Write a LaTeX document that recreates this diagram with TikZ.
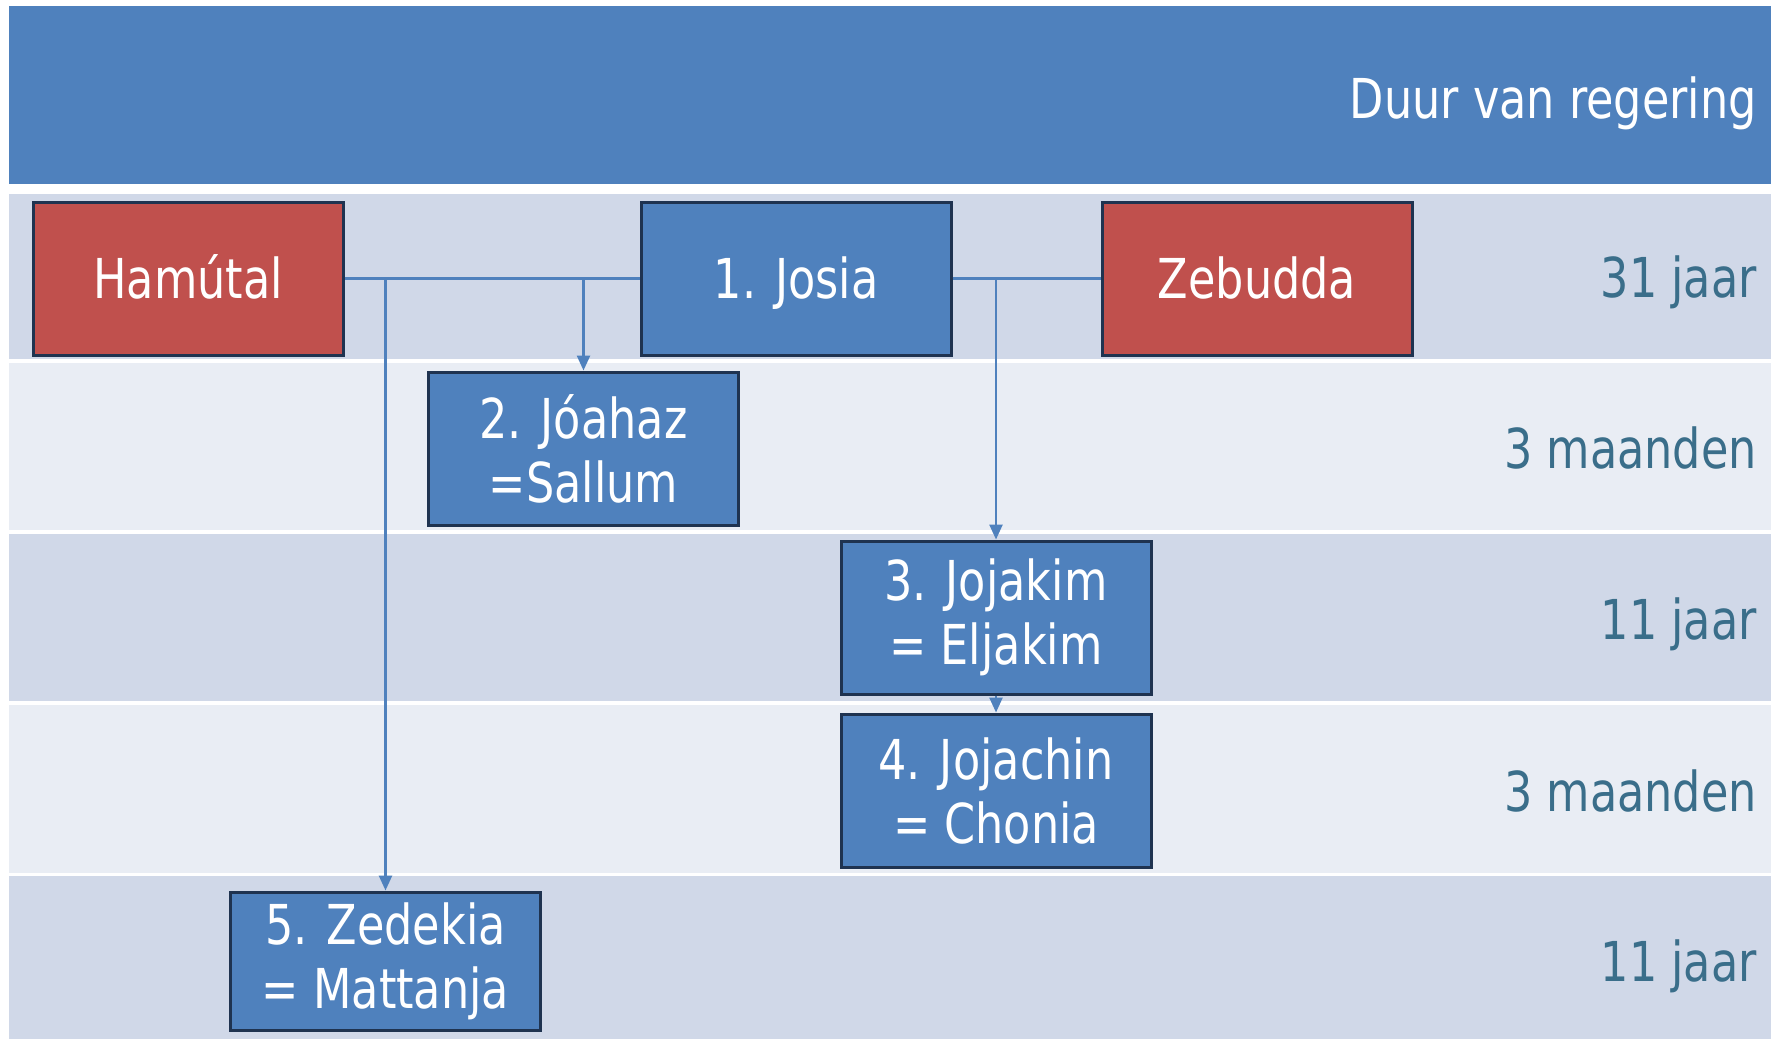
\documentclass[tikz,border=0pt]{standalone}
\usepackage{fontspec}
\setmainfont{DejaVu Sans}[FakeStretch=0.81]
\usetikzlibrary{arrows.meta}
\definecolor{hdr}{HTML}{4F81BD}
\definecolor{rowA}{HTML}{D0D8E8}
\definecolor{rowB}{HTML}{E9EDF4}
\definecolor{boxblue}{HTML}{4F81BD}
\definecolor{boxred}{HTML}{C0504D}
\definecolor{boxline}{HTML}{1F3350}
\definecolor{durtext}{HTML}{3A6E8A}
\definecolor{conn}{HTML}{4F81BD}
\tikzset{
  person/.style={draw=boxline, line width=3pt, inner sep=0pt, align=center,
    text=white, font=\fontsize{55}{64}\selectfont,
    minimum width=310pt, minimum height=153pt},
  single/.style={text height=40pt, text depth=0pt},
  king/.style={person, fill=boxblue},
  mother/.style={person, fill=boxred},
  dur/.style={anchor=base east, text=durtext, inner sep=0pt, font=\fontsize{55}{64}\selectfont},
  conline/.style={draw=conn, line width=2.5pt},
  conarrow/.style={conline, -{Triangle[length=15pt,width=13pt]}}
}
\begin{document}
\begin{tikzpicture}[x=1pt,y=-1pt]
\useasboundingbox (0,0) rectangle (1777,1042);
\fill[white] (0,0) rectangle (1777,1042);
% header and rows
\fill[hdr] (9,6) rectangle (1771,184);
\fill[rowA] (9,194) rectangle (1771,359);
\fill[rowB] (9,363) rectangle (1771,530);
\fill[rowA] (9,534) rectangle (1771,701);
\fill[rowB] (9,705) rectangle (1771,873);
\fill[rowA] (9,876) rectangle (1771,1039);
% header / durations
\node[dur, text=white] (hdrtext) at (1757,118) {Duur van regering};
\node[dur] (d1) at (1757,297) {31 jaar};
\node[dur] (d2) at (1757,468) {3 maanden};
\node[dur] (d3) at (1757,639) {11 jaar};
\node[dur] (d4) at (1757,811) {3 maanden};
\node[dur] (d5) at (1757,981) {11 jaar};
% persons
\node[mother, single] (hamutal) at (188,278.5) {Hamútal};
\node[king, single] (josia) at (796,278.5) {1. Josia};
\node[mother, single] (zebudda) at (1257,278.5) {Zebudda};
\node[king] (joahaz) at (583.5,448.5) {2. Jóahaz\\=Sallum};
\node[king] (jojakim) at (996,617.5) {3. Jojakim\\= Eljakim};
\node[king] (jojachin) at (996,790.5) {4. Jojachin\\= Chonia};
\node[king, minimum height=138pt] (zedekia) at (385.5,961) {5. Zedekia\\= Mattanja};
% connectors
\draw[conline] (hamutal.east) -- (josia.west);
\draw[conline] (josia.east) -- (zebudda.west);
\draw[conarrow] (zedekia.north |- hamutal.east) -- (zedekia.north);
\draw[conarrow] (joahaz.north |- josia.west) -- (joahaz.north);
\draw[conarrow] (jojakim.north |- josia.east) -- (jojakim.north);
\draw[conarrow] (jojakim.south) -- (jojachin.north);
\end{tikzpicture}
\end{document}
